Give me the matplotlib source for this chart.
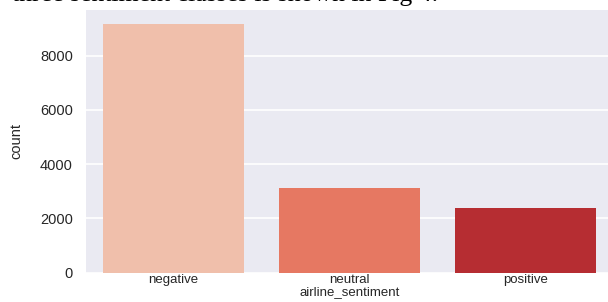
import matplotlib
matplotlib.use('Agg')
import matplotlib.pyplot as plt

# counts per sentiment class
sentiments = ['negative', 'neutral', 'positive']
counts = [9178, 3099, 2363]
bar_colors = ['#f0bfab', '#e67862', '#b62d32']
yticks = [0, 2000, 4000, 6000, 8000]

fig = plt.figure(figsize=(6.08, 3.02), dpi=100)

# caption line from the page above, mostly cut off by the crop
fig.text(12/608, 1 - 0.7/302, 'three sentiment classes is shown in Fig 4.',
         family='Liberation Serif', fontsize=18.5, va='baseline', ha='left')

# the original figure continues past the right edge, so the axes do too
ax = fig.add_axes([85.5/608, 29.5/302, 528/608, 262.5/302])
ax.set_facecolor('#eaeaf2')
ax.bar(range(len(sentiments)), counts, width=0.8, color=bar_colors, zorder=2)
ax.set_xlim(-0.5, len(sentiments) - 0.5)
ax.set_ylim(0, 9680)

ax.set_yticks(yticks)
ax.set_xticks(range(len(sentiments)))
ax.set_xticklabels(sentiments)
ax.yaxis.grid(True, color='white', linewidth=1.2, zorder=0)
ax.set_axisbelow(True)
for s in ax.spines.values():
    s.set_visible(False)
ax.tick_params(length=0, labelsize=10.5, colors='#262626', pad=9)
ax.tick_params(axis='x', labelsize=9.5, pad=1)
for lab in ax.get_xticklabels() + ax.get_yticklabels():
    lab.set_family('Liberation Sans')

ax.set_xlabel('airline_sentiment', family='Liberation Sans', fontsize=9.5,
              color='#262626', labelpad=0)
ax.set_ylabel('count', family='Liberation Sans', fontsize=10.5,
              color='#262626', labelpad=12)

fig.savefig('out.png', dpi=100)
